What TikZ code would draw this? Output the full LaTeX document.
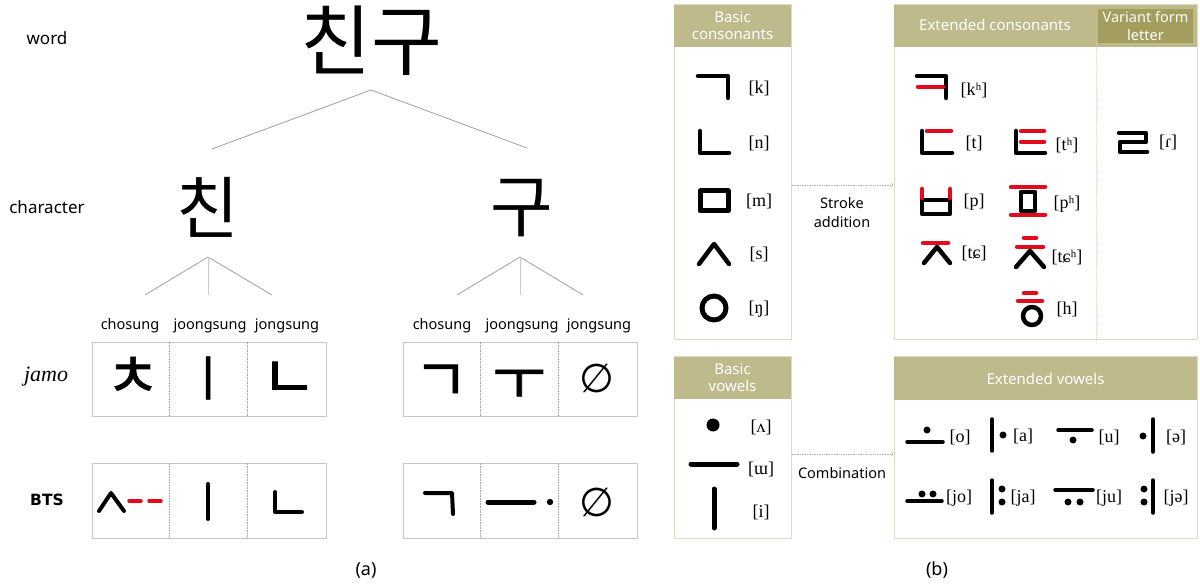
\documentclass[tikz,border=0pt]{standalone}
\usepackage{fontspec}
\setmainfont{Noto Sans}
\newfontfamily\kofont{Noto Sans CJK KR}
\newfontfamily\kobold[FakeBold=1.2]{Noto Sans CJK KR}
\newfontfamily\ipafont{Liberation Serif}
\newfontfamily\dvsans{DejaVu Sans}
\usepackage{tikz}
\usetikzlibrary{arrows}
\definecolor{hdrtan}{RGB}{190,186,140}
\definecolor{hdrdark}{RGB}{163,158,94}
\definecolor{boxtan}{RGB}{222,219,196}
\definecolor{strokered}{RGB}{226,10,28}
\newcommand{\fsz}[1]{\fontsize{#1}{#1}\selectfont}

\begin{document}
\begin{tikzpicture}[x=1pt, y=-1pt,
		lbl/.style={inner sep=0pt, font=\fsz{17}},
		col/.style={inner sep=0pt, font=\fsz{14.5}},
		hang/.style={inner sep=0pt, font=\kofont\fsz{#1}},
		jam/.style={inner sep=0pt, font=\kobold\fsz{#1}},
		tree/.style={draw=gray!75, line width=0.8pt},
		jbox/.style={draw=gray!45, line width=0.9pt, minimum width=234pt, minimum height=74pt, inner sep=0pt},
		sep/.style={draw=gray!70, densely dotted, line width=0.6pt},
		stk/.style={line width=#1, line cap=round, line join=round},
		stk/.default=4.5pt,
		red/.style={stk=#1, draw=strokered},
		red/.default=4.5pt,
		ipa/.style={inner sep=0pt, font=\ipafont\fsz{18}},
		tbox/.style={draw=boxtan, line width=1pt, inner sep=0pt},
		hdr/.style={fill=hdrtan, text=white, inner sep=0pt, align=center, font=\fontsize{15}{17}\selectfont},
		flow/.style={draw=gray!60, densely dotted, line width=0.7pt, ->},
		]
		\useasboundingbox (0,0) rectangle (1200,585);
		
		%% (a) word tree
		\node[lbl] (lword) at (47,38) {word};
		\node[lbl] (lchar) at (47,207) {character};
		\node[inner sep=0pt, font=\itshape\ipafont\fsz{22}] (ljamo) at (46,377) {jamo};
		\node[inner sep=0pt, font=\dvsans\bfseries\fsz{15.5}] (lbts) at (47,500) {BTS};
		
		\node[hang=77] (word) at (371,41) {친구};
		\node[hang=68] (chin) at (208,207) {친};
		\node[hang=68] (gu) at (522,208) {구};
		
		\coordinate (w0) at (371,90);
		\coordinate (w1) at (212,149);
		\coordinate (w2) at (527,148);
		\draw[tree] (w1) -- (w0) -- (w2);
		
		\coordinate (c0) at (208,257);
		\coordinate (c1) at (145,295);
		\coordinate (c2) at (208,295);
		\coordinate (c3) at (272,295);
		\draw[tree] (c1) -- (c0) -- (c3);
		\draw[tree, draw=gray!40] (c0) -- (c2);
		
		\coordinate (g0) at (520,257);
		\coordinate (g1) at (457,295);
		\coordinate (g2) at (520,295);
		\coordinate (g3) at (583,295);
		\draw[tree] (g1) -- (g0) -- (g3);
		\draw[tree, draw=gray!40] (g0) -- (g2);
		
		\node[col] (cho1) at (130,326) {chosung};
		\node[col] (jung1) at (210,326) {joongsung};
		\node[col] (jong1) at (287,326) {jongsung};
		\node[col] (cho2) at (442,326) {chosung};
		\node[col] (jung2) at (522,326) {joongsung};
		\node[col] (jong2) at (599,326) {jongsung};
		
		%% (a) boxes
		\node[jbox] (jl) at (209,379) {};
		\node[jbox] (jr) at (520,379) {};
		\node[jbox, minimum height=75pt] (bl) at (209,500.5) {};
		\node[jbox, minimum height=75pt] (br) at (520,500.5) {};
		\foreach \b in {jl,jr,bl,br} {
			\draw[sep] ([xshift=78pt]\b.north west) -- ([xshift=78pt]\b.south west);
			\draw[sep] ([xshift=156pt]\b.north west) -- ([xshift=156pt]\b.south west);
		}
		
		% jamo row
		\node[jam=60] (jcho1) at (133,377) {ㅊ};
		\node[jam=48] (jjung1) at (208,378) {ㅣ};
		\node[jam=60] (jjong1) at (289,380) {ㄴ};
		\node[jam=60] (jcho2) at (441,383) {ㄱ};
		\node[jam=58] (jjung2) at (519,385) {ㅜ};
		\node[inner sep=0pt, font=\dvsans\fsz{40}] (jjong2) at (597,378) {∅};
		
		% BTS row
		\draw[stk=4pt] (99,511) -- (111,493) -- (124,511);
		\draw[red=3.5pt] (129,501) -- (141,501) (149,501) -- (161,501);
		\draw[stk=4pt] (208,484) -- (208,519);
		\draw[stk=4pt] (275,492) -- (275,512) -- (302,512);
		\draw[stk=4pt] (425,493) -- (452,493) -- (453,514);
		\draw[stk=5pt] (488,502) -- (534,502);
		\fill (550,502) circle (3.2);
		\node[inner sep=0pt, font=\dvsans\fsz{40}] (bjong2) at (597,502) {∅};
		
		\node[inner sep=0pt, font=\fsz{18}] (capa) at (366,570) {(a)};
		
		%% (b) consonants
		\node[tbox, minimum width=117pt, minimum height=335pt] (bcons) at (732.5,172.5) {};
		\node[hdr, minimum width=117pt, minimum height=42pt] (bconsh) at (732.5,26) {Basic\\consonants};
		\node[tbox, minimum width=303pt, minimum height=335pt] (econs) at (1045.5,172.5) {};
		\node[hdr, minimum width=303pt, minimum height=42pt] (econsh) at (1045.5,26) {};
		\node[hdr, font=\fsz{15}] (econst) at (995,25) {Extended consonants};
		\node[hdr, fill=hdrdark, minimum width=95pt, minimum height=34pt, font=\fontsize{14.5}{18}\selectfont] (vform) at (1145.5,26) {Variant form\\letter};
		\draw[draw=boxtan, densely dotted, line width=0.8pt] (vform.south -| 1096,0) -- (econs.south -| 1096,0);
		
		\draw[flow] ([yshift=-12.5pt]bcons.east) -- ([yshift=-12.5pt]econs.west);
		\node[inner sep=0pt, align=center, font=\fontsize{14.5}{19}\selectfont] (stradd) at (842,213) {Stroke\\addition};
		
		% basic consonants
		\draw[stk] (698,76) -- (728,76) -- (728,98);
		\draw[stk] (700,131) -- (700,153) -- (729,153);
		\draw[stk=5pt] (700,191) rectangle (728,211);
		\draw[stk] (699,264) -- (714,244) -- (729,264);
		\draw[stk=5pt] (714,308) circle (12);
		\node[ipa] (pk) at (759,88) {[k]};
		\node[ipa] (pn) at (759,143) {[n]};
		\node[ipa] (pm) at (759,201) {[m]};
		\node[ipa] (ps) at (759,254) {[s]};
		\node[ipa] (png) at (759,309) {[ŋ]};
		
		% extended consonants
		\draw[stk] (917,76) -- (946,76) -- (946,98);
		\draw[red] (918,87) -- (943,87);
		\draw[stk] (922,131) -- (922,153) -- (952,153);
		\draw[red] (927,131) -- (951,131);
		\draw[stk] (922,199) -- (922,214) -- (950,214) -- (950,199) (922,200) -- (950,200);
		\draw[red] (922,189) -- (922,198) (950,189) -- (950,198);
		\draw[red] (923,243) -- (948,243);
		\draw[stk] (924,263) -- (937,247) -- (950,263);
		\draw[stk] (1016,131) -- (1016,153) -- (1045,153);
		\draw[red] (1021,131) -- (1044,131) (1021,142) -- (1044,142);
		\draw[stk] (1021,192) rectangle (1035,211);
		\draw[red] (1011,187) -- (1045,187) (1011,215) -- (1045,215);
		\draw[red] (1024,238) -- (1036,238) (1017,247) -- (1043,247);
		\draw[stk] (1016,267) -- (1030,251) -- (1044,267);
		\draw[red] (1024,293) -- (1036,293) (1018,301) -- (1042,301);
		\draw[stk] (1032,316) circle (9);
		\draw[stk] (1119,133) -- (1146,133) -- (1146,142) -- (1120,142) -- (1120,152) -- (1147,152);
		\node[ipa] (pkh) at (974,90) {[kʰ]};
		\node[ipa] (pt) at (974,143) {[t]};
		\node[ipa] (pp) at (974,202) {[p]};
		\node[ipa] (ptc) at (974,253) {[tɕ]};
		\node[ipa] (pth) at (1067,145) {[tʰ]};
		\node[ipa] (pph) at (1067,204) {[pʰ]};
		\node[ipa] (ptch) at (1067,257) {[tɕʰ]};
		\node[ipa] (ph) at (1067,309) {[h]};
		\node[ipa] (pr) at (1168,142) {[ɾ]};
		
		%% (b) vowels
		\node[tbox, minimum width=117pt, minimum height=181pt] (bvow) at (732.5,447.5) {};
		\node[hdr, minimum width=117pt, minimum height=42pt] (bvowh) at (732.5,378) {Basic\\vowels};
		\node[tbox, minimum width=303pt, minimum height=181pt] (evow) at (1045.5,447.5) {};
		\node[hdr, minimum width=303pt, minimum height=43pt, font=\fsz{15}] (evowh) at (1045.5,378.5) {Extended vowels};
		
		\draw[flow] ([yshift=-6.5pt]bvow.east) -- ([yshift=-6.5pt]evow.west);
		\node[inner sep=0pt, font=\fsz{14.5}] (comb) at (842,473) {Combination};
		
		% basic vowels
		\fill (713,425) circle (6.5);
		\draw[stk=5pt] (691,464) -- (737,464);
		\draw[stk=5pt] (714,489) -- (714,528);
		\node[ipa] (pa0) at (761,427) {[ʌ]};
		\node[ipa] (pu0) at (761,469) {[ɯ]};
		\node[ipa] (pi0) at (761,512) {[i]};
		
		% extended vowels
		\draw[stk=3.5pt] (907,442) -- (943,442);
		\fill (927,430) circle (3.5);
		\draw[stk=3.5pt] (992,419) -- (992,451);
		\fill (1003,435) circle (3.5);
		\draw[stk=3.5pt] (1058,430) -- (1092,430);
		\fill (1073,440) circle (3.5);
		\draw[stk=3.5pt] (1153,419) -- (1153,452);
		\fill (1143,436) circle (3.5);
		\draw[stk=3.5pt] (907,501) -- (942,501);
		\fill (922,494) circle (3.5) (933,494) circle (3.5);
		\draw[stk=3.5pt] (992,480) -- (992,513);
		\fill (1002,489) circle (3.5) (1002,502) circle (3.5);
		\draw[stk=3.5pt] (1055,490) -- (1093,490);
		\fill (1068,502) circle (3.5) (1080,502) circle (3.5);
		\draw[stk=3.5pt] (1153,480) -- (1153,513);
		\fill (1144,489) circle (3.5) (1144,502) circle (3.5);
		\node[ipa] (po) at (960,437) {[o]};
		\node[ipa] (pa) at (1023,436) {[a]};
		\node[ipa] (pu) at (1109,437) {[u]};
		\node[ipa] (pe) at (1176,437) {[ə]};
		\node[ipa] (pjo) at (959,498) {[jo]};
		\node[ipa] (pja) at (1023,498) {[ja]};
		\node[ipa] (pju) at (1109,498) {[ju]};
		\node[ipa] (pje) at (1176,498) {[jə]};
		
		\node[inner sep=0pt, font=\fsz{18}] (capb) at (937,570) {(b)};
	\end{tikzpicture}
\end{document}
